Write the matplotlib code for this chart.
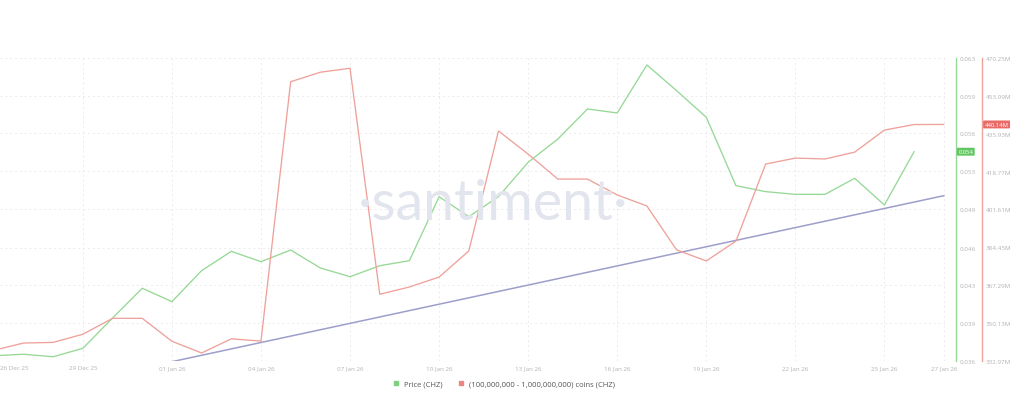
import matplotlib
matplotlib.use("Agg")
import matplotlib.pyplot as plt
from matplotlib.lines import Line2D
import numpy as np
import pandas as pd

# dados (26 Dec 25 -> 27 Jan 26, diario)
dates = pd.date_range("2025-12-26", "2026-01-27", freq="D")

price = [0.03647, 0.03660, 0.03638, 0.03713, 0.03983, 0.04248, 0.04129, 0.04405,
         0.04577, 0.04485, 0.04589, 0.04429, 0.04351, 0.04449, 0.04494, 0.05064,
         0.04886, 0.05064, 0.05371, 0.05578, 0.05846, 0.05810, 0.06238, 0.06009,
         0.05772, 0.05162, 0.05109, 0.05085, 0.05085, 0.05228, 0.04990, 0.05465,
         np.nan]

whales = [337.8, 341.1, 341.4, 345.1, 352.3, 352.3, 341.9, 336.6,
          343.0, 342.0, 459.5, 463.8, 465.6, 363.2, 366.5, 371.0,
          382.8, 437.2, 426.7, 415.4, 415.4, 408.2, 403.2, 383.3,
          378.3, 387.3, 422.2, 424.9, 424.5, 427.6, 437.6, 440.1,
          440.14]

# linha de tendencia desenhada a mao (eixo do preco)
trend_dates = pd.to_datetime(["2026-01-01", "2026-01-27"])
trend_values = [0.03594, 0.05073]

price_ticks = [0.036, 0.0394, 0.0428, 0.0461, 0.0495, 0.0529, 0.0563, 0.0596, 0.063]
price_labels = ["0.036", "0.039", "0.043", "0.046", "0.049", "0.053", "0.056", "0.059", "0.063"]
whale_ticks = [332.97, 350.13, 367.29, 384.45, 401.61, 418.77, 435.93, 453.09, 470.25]
whale_labels = ["332.97M", "350.13M", "367.29M", "384.45M", "401.61M",
                "418.77M", "435.93M", "453.09M", "470.25M"]

date_ticks = pd.to_datetime(["2025-12-29", "2026-01-01", "2026-01-04", "2026-01-07",
                             "2026-01-10", "2026-01-13", "2026-01-16", "2026-01-19",
                             "2026-01-22", "2026-01-25", "2026-01-27"])
date_labels = ["29 Dec 25", "01 Jan 26", "04 Jan 26", "07 Jan 26", "10 Jan 26",
               "13 Jan 26", "16 Jan 26", "19 Jan 26", "22 Jan 26", "25 Jan 26", "27 Jan 26"]
first_date_label = "26 Dec 25"

GREEN = "#96d896"
RED = "#efa19b"
TREND = "#9d9fca"
LABEL = "#b3b3b3"
GRID = "#ebebeb"

plt.rcParams["font.family"] = ["Open Sans", "DejaVu Sans"]

fig = plt.figure(figsize=(10.24, 4.06), dpi=100)
ax = fig.add_axes([0.0, 0.1084, 945 / 1024, 0.7463])
ax2 = ax.twinx()

# marca d'agua
fig.text(0.482, 0.497, "·santiment·", fontsize=40, color="#e2e5ee", weight="normal",
         ha="center", va="center", family=["Lato", "DejaVu Sans"], zorder=0)

ax.plot(dates, price, color=GREEN, lw=0.95, zorder=3)
ax.plot(trend_dates, trend_values, color=TREND, lw=1.1, zorder=3)
ax2.plot(dates, whales, color=RED, lw=0.95, zorder=3)

ax.set_xlim(pd.Timestamp("2025-12-26 05:00"), pd.Timestamp("2026-01-27 01:00"))
ax.set_ylim(price_ticks[0], price_ticks[-1])
ax2.set_ylim(whale_ticks[0], whale_ticks[-1])

ax.set_xticks(date_ticks)
ax.set_xticklabels(date_labels)
ax.set_yticks(price_ticks)
ax.set_yticklabels(price_labels)
ax2.set_yticks(whale_ticks)
ax2.set_yticklabels(whale_labels)

ax.yaxis.tick_right()
ax.yaxis.set_label_position("right")
ax.grid(True, color=GRID, lw=0.7, ls=(0, (2, 3)))
ax.set_axisbelow(True)

for a in (ax, ax2):
    for s in ("left", "top", "bottom"):
        a.spines[s].set_visible(False)
    a.tick_params(axis="both", length=0, labelsize=4.5, labelcolor=LABEL, pad=2.5)
    a.patch.set_visible(False)

ax.spines["right"].set_position(("outward", 8))
ax.spines["right"].set_color(GREEN)
ax.spines["right"].set_linewidth(1.0)
ax2.spines["right"].set_position(("outward", 26.6))
ax2.spines["right"].set_color(RED)
ax2.spines["right"].set_linewidth(1.0)
ax.tick_params(axis="x", pad=3)

# primeiro rotulo de data, encostado na borda esquerda
ax.text(0.0, -0.012, first_date_label, transform=ax.transAxes, ha="left",
        va="top", fontsize=4.5, color=LABEL)

# caixas com ultimo valor
last_price = price[-2]
ax.annotate(f"{np.floor(last_price * 1000) / 1000:.3f}", xy=(1, last_price),
            xycoords=("axes fraction", "data"), xytext=(9.6, 0), textcoords="offset points",
            ha="left", va="center", fontsize=4.2, color="white",
            bbox=dict(boxstyle="round,pad=0.25,rounding_size=0.15", fc="#62c662", ec="none"))
ax2.annotate(f"{whales[-1]:.2f}M", xy=(1, whales[-1]),
             xycoords=("axes fraction", "data"), xytext=(28.5, 0), textcoords="offset points",
             ha="left", va="center", fontsize=4.2, color="white",
             bbox=dict(boxstyle="round,pad=0.25,rounding_size=0.15", fc="#e96a66", ec="none"))

handles = [Line2D([], [], ls="none", marker="s", ms=3, color="#7fce7f"),
           Line2D([], [], ls="none", marker="s", ms=3, color="#ea8580")]
fig.legend(handles, ["Price (CHZ)", "(100,000,000 - 1,000,000,000) coins (CHZ)"],
           loc="center", bbox_to_anchor=(0.49, 0.052), ncol=2, frameon=False,
           fontsize=5.5, handletextpad=0.1, columnspacing=1.3, labelcolor="#555555")

fig.savefig("out.png", dpi=100)
